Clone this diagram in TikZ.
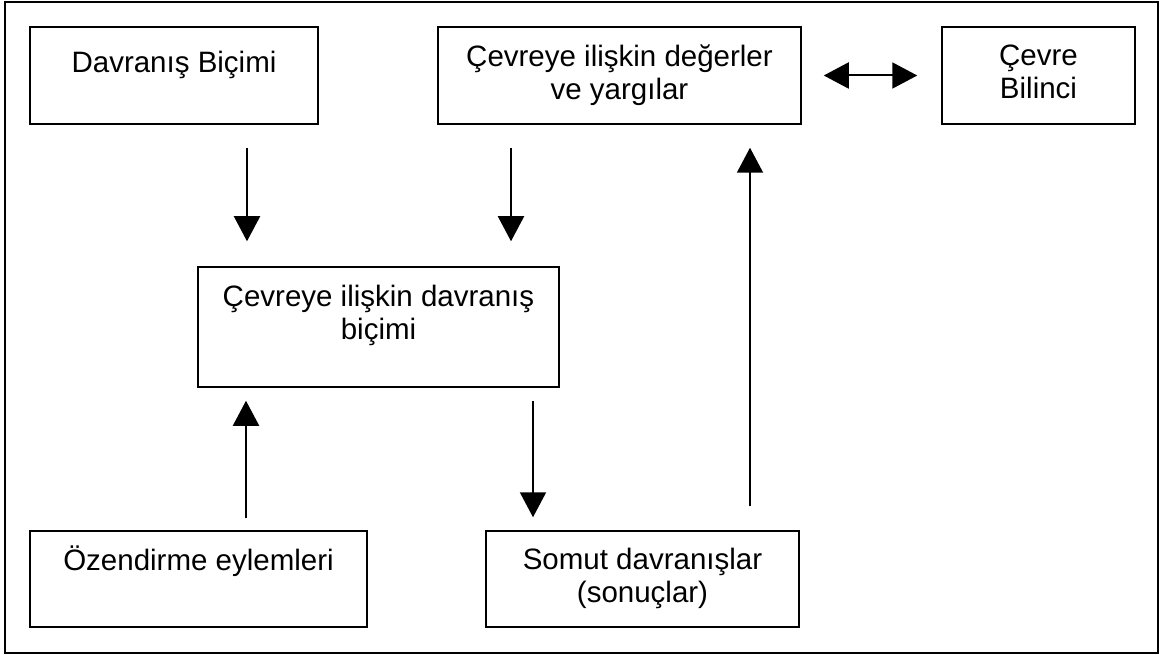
\documentclass[tikz,border=0pt]{standalone}
\usepackage{fontspec}
\setmainfont{Liberation Sans}
\usetikzlibrary{arrows.meta}
\begin{document}
\begin{tikzpicture}[x=1pt,y=-1pt,
  box/.style={draw, line width=1.5pt, inner sep=0pt},
  lbl/.style={font=\fontsize{29.5}{33}\selectfont, align=center, inner sep=0pt, anchor=base},
  arr/.style={-{Triangle[width=26pt,length=25pt]}, line width=2pt},
  darr/.style={{Triangle[width=26pt,length=25pt]}-{Triangle[width=26pt,length=25pt]}, line width=2pt}]
\useasboundingbox (0,0) rectangle (1160,655);
\draw[line width=2pt] (5,2.5) rectangle (1158,652.5);
% boxes
\node[box, minimum width=288pt, minimum height=97pt] (b1) at (174,75.5) {};
\node[box, minimum width=363pt, minimum height=97pt] (b2) at (619.5,75.5) {};
\node[box, minimum width=193pt, minimum height=97pt] (b3) at (1038.5,75.5) {};
\node[box, minimum width=361pt, minimum height=120pt] (b4) at (378.5,327) {};
\node[box, minimum width=337pt, minimum height=96pt] (b5) at (198.5,579) {};
\node[box, minimum width=313pt, minimum height=96pt] (b6) at (642.5,579) {};
% labels (base = baseline of last line)
\node[lbl] (t1) at (174,73) {Davranış Biçimi};
\node[lbl] (t2) at (619.5,100) {Çevreye ilişkin değerler\\ve yargılar};
\node[lbl] (t3) at (1038.5,99) {Çevre\\Bilinci};
\node[lbl] (t4) at (378.5,339) {Çevreye ilişkin davranış\\biçimi};
\node[lbl] (t5) at (198.5,570) {Özendirme eylemleri};
\node[lbl] (t6) at (642.5,602) {Somut davranışlar\\(sonuçlar)};
% arrow x positions
\coordinate (c1) at (247,0);
\coordinate (c2) at (511,0);
\coordinate (c3) at (750,0);
\coordinate (c4) at (246,0);
\coordinate (c5) at (533,0);
\draw[arr, shorten <=23pt, shorten >=25pt] (b1.south -| c1) -- (b4.north -| c1);
\draw[arr, shorten <=23pt, shorten >=25pt] (b2.south -| c2) -- (b4.north -| c2);
\draw[arr, shorten <=24pt, shorten >=23pt] (b6.north -| c3) -- (b2.south -| c3);
\draw[arr, shorten <=12pt, shorten >=13pt] (b5.north -| c4) -- (b4.south -| c4);
\draw[arr, shorten <=13pt, shorten >=13pt] (b4.south -| c5) -- (b6.north -| c5);
\draw[darr, shorten <=22pt, shorten >=24pt] (b2.east) -- (b3.west);
\end{tikzpicture}
\end{document}
